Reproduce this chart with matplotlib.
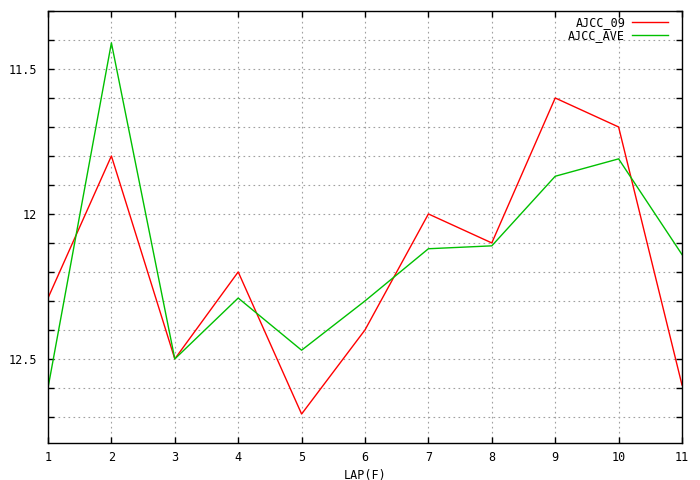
import numpy as np
import matplotlib.pyplot as plt
from matplotlib.ticker import MultipleLocator, FixedLocator

laps = [1, 2, 3, 4, 5, 6, 7, 8, 9, 10, 11]
ajcc_09 = [12.29, 11.8, 12.5, 12.2, 12.69, 12.4, 12.0, 12.1, 11.6, 11.7, 12.59]
ajcc_ave = [12.6, 11.41, 12.5, 12.29, 12.47, 12.3, 12.12, 12.11, 11.87, 11.81, 12.14]

plt.rcParams['font.family'] = 'DejaVu Sans Mono'
plt.rcParams['font.size'] = 8.5

fig = plt.figure(figsize=(7, 4.8), dpi=100)
ax = fig.add_axes([48/700, 37/480, 634/700, 432/480])

ax.plot(laps, ajcc_09, color='#ff0000', lw=1, label='AJCC_09')
ax.plot(laps, ajcc_ave, color='#00c000', lw=1, label='AJCC_AVE')

ax.set_xlim(1, 11)
ax.set_ylim(12.79, 11.3)
ax.xaxis.set_major_locator(MultipleLocator(1))
ax.yaxis.set_major_locator(FixedLocator([11.5, 12.0, 12.5]))
ax.yaxis.set_minor_locator(MultipleLocator(0.1))
ax.set_yticklabels(['11.5', '12', '12.5'])

ax.grid(True, which='both', axis='y', color='#a0a0a0', linestyle=(0, (1.5, 3)), lw=0.8)
ax.grid(True, which='major', axis='x', color='#a0a0a0', linestyle=(0, (1.5, 3)), lw=0.8)
ax.tick_params(which='both', direction='in', top=True, right=True, length=4, width=1)
ax.tick_params(axis='x', which='major', pad=6)
ax.tick_params(axis='y', which='major', pad=8)
for s in ax.spines.values():
    s.set_linewidth(1)

ax.set_xlabel('LAP(F)', labelpad=3)

leg = ax.legend(loc='upper right', frameon=False, markerfirst=False,
                handlelength=3.0, handletextpad=0.6, labelspacing=0.05,
                borderaxespad=0.0, bbox_to_anchor=(0.985, 1.0))
for t in leg.get_texts():
    t.set_ha('right')
for h in leg.get_lines():
    h.set_linestyle('-')

fig.savefig('out.png', dpi=100)
